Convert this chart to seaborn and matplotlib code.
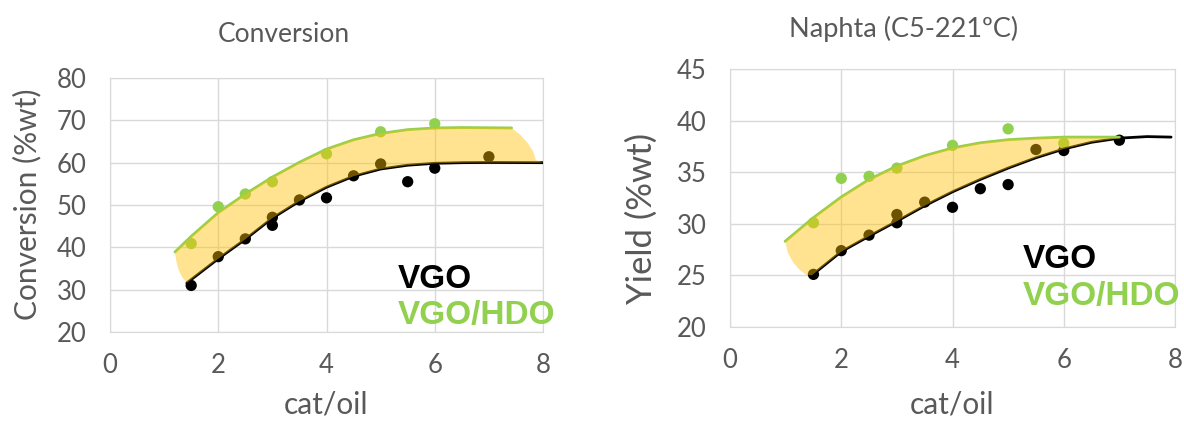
import numpy as np
import pandas as pd
import seaborn as sns
import matplotlib.pyplot as plt

# Conversion panel: experimental points
conv_vgo_x = [1.5, 2, 2.5, 3, 3, 3.5, 4, 4.5, 5, 5.5, 6, 7]
conv_vgo_y = [31.0, 37.8, 42.0, 47.1, 45.2, 51.2, 51.7, 56.9, 59.7, 55.5, 58.7, 61.4]
conv_hdo_x = [1.5, 2, 2.5, 3, 4, 5, 6]
conv_hdo_y = [40.9, 49.6, 52.6, 55.5, 62.1, 67.3, 69.2]

# Conversion panel: trend lines
conv_vgo_fit_x = [1.42, 2, 2.5, 3, 3.5, 4, 4.5, 5, 5.5, 6, 6.5, 7, 8]
conv_vgo_fit_y = [31.6, 37.3, 41.9, 46.9, 50.9, 54.2, 56.8, 58.5, 59.4, 59.85, 60.0, 60.05, 60.0]
conv_hdo_fit_x = [1.2, 1.5, 2, 2.5, 3, 3.5, 4, 4.5, 5, 5.5, 6, 6.5, 7.42]
conv_hdo_fit_y = [38.9, 42.6, 48.2, 52.6, 56.6, 60.1, 63.2, 65.4, 66.9, 67.8, 68.2, 68.3, 68.2]
# rounded ends of the shaded band
conv_cap_right_x = [7.58, 7.72, 7.82, 7.87]
conv_cap_right_y = [66.6, 64.6, 62.6, 60.6]
conv_cap_left_x = [1.34, 1.27, 1.23, 1.21]
conv_cap_left_y = [32.8, 34.6, 36.4, 37.9]

# Naphta panel: experimental points
nap_vgo_x = [1.5, 2, 2.5, 3, 3, 3.5, 4, 4.5, 5, 5.5, 6, 7]
nap_vgo_y = [25.1, 27.4, 28.9, 30.1, 30.9, 32.1, 31.6, 33.4, 33.8, 37.2, 37.1, 38.1]
nap_hdo_x = [1.5, 2, 2.5, 3, 4, 5, 6]
nap_hdo_y = [30.1, 34.4, 34.6, 35.4, 37.6, 39.2, 37.8]

# Naphta panel: trend lines
nap_vgo_fit_x = [1.47, 2, 2.5, 3, 3.5, 4, 4.5, 5, 5.5, 6, 6.5, 7, 7.5, 7.93]
nap_vgo_fit_y = [25.0, 27.3, 28.8, 30.25, 31.75, 33.1, 34.3, 35.4, 36.4, 37.25, 37.9, 38.3, 38.45, 38.4]
nap_hdo_fit_x = [0.99, 1.5, 2, 2.5, 3, 3.5, 4, 4.5, 5, 5.5, 6, 7]
nap_hdo_fit_y = [28.3, 30.6, 32.6, 34.3, 35.6, 36.6, 37.35, 37.85, 38.15, 38.3, 38.4, 38.4]
nap_cap_left_x = [1.36, 1.24, 1.13, 1.04]
nap_cap_left_y = [25.1, 25.6, 26.3, 27.2]

xticks = [0, 2, 4, 6, 8]
conv_yticks = [20, 30, 40, 50, 60, 70, 80]
nap_yticks = [20, 25, 30, 35, 40, 45]

green = "#92D050"
band = "#FFC000"
grey = "#595959"

sns.set_style("white")
plt.rcParams["font.family"] = ["Lato", "DejaVu Sans"]

fig = plt.figure(figsize=(11.84, 4.22), dpi=100)
ax1 = fig.add_axes([110 / 1184, 1 - 332 / 422, 433 / 1184, 254 / 422])
ax2 = fig.add_axes([730 / 1184, 1 - 327 / 422, 445 / 1184, 258 / 422])


def draw_panel(ax, vx, vy, hx, hy, vfx, vfy, hfx, hfy, band_x, band_y):
    sns.scatterplot(x=vx, y=vy, ax=ax, color="black", s=66, edgecolor="none", zorder=3)
    sns.scatterplot(x=hx, y=hy, ax=ax, color=green, s=66, edgecolor="none", zorder=3)
    sns.lineplot(x=vfx, y=vfy, ax=ax, color="black", lw=2, sort=False, estimator=None, zorder=4)
    sns.lineplot(x=hfx, y=hfy, ax=ax, color=green, lw=2, sort=False, estimator=None, zorder=4)
    ax.fill(band_x, band_y, color=band, alpha=0.43, lw=0, zorder=5)
    ax.grid(True, color="#d9d9d9", lw=1)
    ax.set_axisbelow(True)
    for sp in ax.spines.values():
        sp.set_color("#d9d9d9")
    ax.tick_params(length=0, labelsize=18.5, labelcolor=grey)
    ax.tick_params(axis="y", pad=17)
    ax.tick_params(axis="x", pad=15)
    ax.set_xlim(0, 8)
    ax.set_xticks(xticks)


# band outlines: upper curve, right end, lower curve back, left end
b1x = conv_hdo_fit_x + conv_cap_right_x + conv_vgo_fit_x[::-1] + conv_cap_left_x
b1y = conv_hdo_fit_y + conv_cap_right_y + conv_vgo_fit_y[::-1] + conv_cap_left_y
draw_panel(ax1, conv_vgo_x, conv_vgo_y, conv_hdo_x, conv_hdo_y,
           conv_vgo_fit_x, conv_vgo_fit_y, conv_hdo_fit_x, conv_hdo_fit_y, b1x, b1y)
ax1.set_ylim(20, 80)
ax1.set_yticks(conv_yticks)

nv_x = [x for x in nap_vgo_fit_x if x <= 7]
nv_y = nap_vgo_fit_y[:len(nv_x)]
b2x = nap_hdo_fit_x + nv_x[::-1] + nap_cap_left_x
b2y = nap_hdo_fit_y + nv_y[::-1] + nap_cap_left_y
draw_panel(ax2, nap_vgo_x, nap_vgo_y, nap_hdo_x, nap_hdo_y,
           nap_vgo_fit_x, nap_vgo_fit_y, nap_hdo_fit_x, nap_hdo_fit_y, b2x, b2y)
ax2.set_ylim(20, 45)
ax2.set_yticks(nap_yticks)

# axis titles
ax1.set_ylabel("Conversion (%wt)", fontsize=21.5, color=grey, va="center")
ax1.yaxis.set_label_coords(-0.192, 0.504)
ax1.set_xlabel("cat/oil", fontsize=21.5, color=grey, va="center")
ax1.xaxis.set_label_coords(0.499, -0.287)
ax2.set_ylabel("Yield (%wt)", fontsize=25, color=grey, va="center")
ax2.yaxis.set_label_coords(-0.198, 0.42)
ax2.set_xlabel("cat/oil", fontsize=21.5, color=grey, va="center")
ax2.xaxis.set_label_coords(0.499, -0.30)

fig.text(284 / 1184, 1 - 34 / 422, "Conversion", fontsize=19, color=grey, ha="center", va="center")
fig.text(904 / 1184, 1 - 29 / 422, "Naphta (C5-221ºC)", fontsize=19.5, color=grey, ha="center", va="center")

# series labels
lab = dict(fontsize=24, fontweight="bold", family="Liberation Sans", zorder=6)
ax1.text(5.32, 30.5, "VGO", color="black", **lab)
ax1.text(5.32, 22.0, "VGO/HDO", color=green, **lab)
ax2.text(5.26, 25.7, "VGO", color="black", **lab)
ax2.text(5.26, 22.1, "VGO/HDO", color=green, **lab)

fig.savefig("out.png", dpi=100)
